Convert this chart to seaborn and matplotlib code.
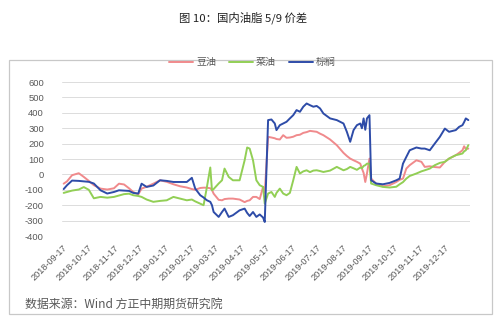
import matplotlib
matplotlib.use("Agg")
import matplotlib.pyplot as plt
from matplotlib.patches import Rectangle
from matplotlib.lines import Line2D
import seaborn as sns
import pandas as pd

dates = [
    "2018-09-18", "2018-09-22", "2018-09-28", "2018-10-06", "2018-10-12", "2018-10-18",
    "2018-10-24", "2018-11-01", "2018-11-09", "2018-11-17", "2018-11-23", "2018-11-29",
    "2018-12-05", "2018-12-10", "2018-12-16", "2018-12-20", "2018-12-26", "2019-01-03",
    "2019-01-11", "2019-01-19", "2019-01-27", "2019-02-04", "2019-02-12", "2019-02-18",
    "2019-02-22", "2019-02-28", "2019-03-04", "2019-03-08", "2019-03-12", "2019-03-14",
    "2019-03-16", "2019-03-22", "2019-03-26", "2019-03-29", "2019-04-03", "2019-04-08",
    "2019-04-16", "2019-04-22", "2019-04-25", "2019-04-28", "2019-05-02", "2019-05-06",
    "2019-05-10", "2019-05-14", "2019-05-16", "2019-05-20", "2019-05-24", "2019-05-28",
    "2019-05-30", "2019-06-03", "2019-06-07", "2019-06-11", "2019-06-15", "2019-06-19",
    "2019-06-23", "2019-06-27", "2019-07-01", "2019-07-05", "2019-07-09", "2019-07-13",
    "2019-07-17", "2019-07-21", "2019-07-25", "2019-08-02", "2019-08-10", "2019-08-18",
    "2019-08-22", "2019-08-26", "2019-08-30", "2019-09-03", "2019-09-07", "2019-09-09",
    "2019-09-11", "2019-09-13", "2019-09-15", "2019-09-18", "2019-09-20", "2019-09-26",
    "2019-10-04", "2019-10-12", "2019-10-20", "2019-10-24", "2019-10-28", "2019-11-01",
    "2019-11-05", "2019-11-13", "2019-11-19", "2019-11-23", "2019-11-29", "2019-12-05",
    "2019-12-11", "2019-12-17", "2019-12-22", "2019-12-30", "2020-01-03", "2020-01-07",
    "2020-01-09", "2020-01-11", "2020-01-14",
]

soy = [
    -60, -45, -5, 8, -16, -42, -70, -92, -98, -90, -60, -65, -90, -114, -130, -92, -80, -60,
    -38, -48, -64, -77, -85, -95, -100, -88, -86, -86, -90, -100, -125, -165, -168, -160,
    -157, -157, -163, -180, -172, -168, -146, -146, -160, -81, -120, 244, 240, 235, 230,
    227, 255, 238, 240, 245, 255, 258, 270, 275, 283, 280, 277, 265, 255, 227, 190, 140,
    120, 103, 92, 82, 70, 38, 10, -49, 6, 103, -27, -60, -77, -70, -49, -35, -27, 38, 60,
    92, 82, 49, 53, 48, 45, 82, 103, 125, 140, 157, 183, 165, 168,
]

rapeseed = [
    -120, -114, -105, -98, -82, -100, -155, -146, -151, -146, -137, -128, -125, -135, -140,
    -146, -163, -178, -172, -168, -146, -157, -168, -163, -175, -190, -200, -81, 45, -103,
    -95, -59, -38, 38, -16, -38, -38, 92, 175, 168, 92, -38, -70, -81, -190, -124, -114,
    -146, -120, -92, -124, -135, -120, -38, 49, 6, 20, 27, 15, 25, 27, 22, 16, 25, 49, 27,
    35, 49, 40, 30, 45, 40, 55, 60, 70, 70, -59, -70, -81, -85, -80, -64, -50, -27, -10, 6,
    20, 27, 38, 60, 75, 82, 103, 125, 130, 136, 150, 157, 190,
]

palm = [
    -95, -70, -40, -42, -45, -48, -59, -103, -124, -114, -103, -105, -107, -120, -124, -60,
    -81, -72, -38, -42, -49, -49, -49, -22, -92, -135, -150, -168, -178, -200, -244, -276,
    -244, -222, -276, -265, -233, -222, -250, -270, -244, -276, -260, -280, -309, 353, 357,
    331, 288, 320, 331, 342, 364, 385, 418, 407, 440, 461, 450, 440, 445, 429, 396, 364,
    353, 331, 277, 212, 288, 320, 331, 300, 364, 290, 364, 385, -38, -59, -64, -55, -38,
    -27, 70, 114, 157, 175, 168, 168, 157, 201, 244, 298, 277, 288, 309, 320, 340, 364, 353,
]

series_names = ["豆油", "菜油", "棕榈"]
colors = ["#F08A8C", "#92CF55", "#2E4CA8"]
tick_labels = [
    "2018-09-17", "2018-10-17", "2018-11-17", "2018-12-17", "2019-01-17", "2019-02-17",
    "2019-03-17", "2019-04-17", "2019-05-17", "2019-06-17", "2019-07-17", "2019-08-17",
    "2019-09-17", "2019-10-17", "2019-11-17", "2019-12-17",
]
y_ticks = [-400, -300, -200, -100, 0, 100, 200, 300, 400, 500, 600]

frames = []
for name, vals in zip(series_names, [soy, rapeseed, palm]):
    frames.append(pd.DataFrame({"date": pd.to_datetime(dates), "value": vals, "series": name}))
df = pd.concat(frames, ignore_index=True)

sns.set_theme(style="white")
plt.rcParams["font.family"] = ["Noto Sans CJK SC", "DejaVu Sans"]

fig = plt.figure(figsize=(5.0, 3.31), dpi=100)
ax = fig.add_axes([0.124, 0.287, 0.816, 0.465])

# outer frame
fig.patches.append(Rectangle((0.018, 0.051), 0.966, 0.768, transform=fig.transFigure,
                             fill=False, edgecolor="#c8c8c8", linewidth=0.9))

sns.lineplot(data=df, x="date", y="value", hue="series", hue_order=series_names,
             palette=colors, linewidth=1.4, ax=ax, legend=False, estimator=None)

ax.set_ylim(-400, 600)
ax.set_yticks(y_ticks)
ax.set_yticklabels([str(v) for v in y_ticks], fontsize=6.8, color="#595959",
                   family=["Liberation Sans", "DejaVu Sans"])
ax.set_xlim(pd.Timestamp("2018-09-16"), pd.Timestamp("2020-01-16"))
ticks = pd.to_datetime(tick_labels)
ax.set_xticks(ticks)
ax.set_xticklabels(tick_labels, rotation=45, ha="right", rotation_mode="anchor",
                   fontsize=6.6, color="#595959", family=["Liberation Sans", "DejaVu Sans"])
ax.tick_params(axis="x", length=0, pad=5)
ax.tick_params(axis="y", length=0, pad=13)
ax.grid(axis="y", color="#dcdcdc", linewidth=0.7)
ax.set_axisbelow(True)
for s in ax.spines.values():
    s.set_visible(False)
ax.set_xlabel("")
ax.set_ylabel("")

# legend
handles = [Line2D([0], [0], color=c, linewidth=1.4) for c in colors]
fig.legend(handles, series_names, loc="center", bbox_to_anchor=(0.505, 0.812), ncol=3,
           frameon=False, fontsize=7.2, handlelength=2.4, handletextpad=0.3,
           columnspacing=1.3, labelcolor="#595959")

fig.text(0.486, 0.946, "图 10：国内油脂 5/9 价差", ha="center", va="center",
         fontsize=8.2, color="#222222")
fig.text(0.05, 0.082, "数据来源：Wind 方正中期期货研究院", ha="left", va="center",
         fontsize=8.6, color="#595959")

fig.savefig("out.png", dpi=100)
